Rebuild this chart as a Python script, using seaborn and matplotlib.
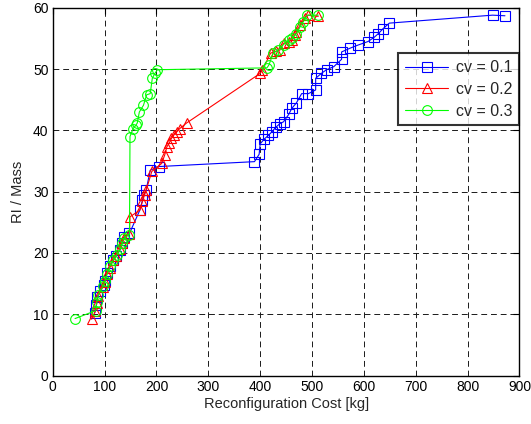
import matplotlib
matplotlib.use("Agg")
import matplotlib.pyplot as plt
import seaborn as sns
import pandas as pd

# ---- data ----
cv1_cost = [81, 84, 86, 92, 98, 101, 104, 110, 117, 122, 130, 133, 137, 148, 168, 173, 176, 180, 188, 204,
            389, 398, 400, 408, 416, 423, 430, 438, 445, 455, 461, 470, 480, 493, 507, 507, 518, 528, 542,
            557, 557, 573, 588, 608, 620, 628, 637, 649, 848, 872]
cv1_ri = [10.2, 11.5, 12.9, 13.8, 14.8, 15.5, 16.7, 17.8, 18.9, 19.5, 20.5, 21.6, 22.6, 23.2, 27.0, 28.6, 29.5, 30.2, 33.5, 34.1,
          34.9, 36.1, 37.8, 38.6, 39.2, 39.8, 40.5, 41.1, 41.4, 42.6, 43.6, 44.5, 46.0, 46.0, 46.6, 48.5, 49.3, 49.9, 50.4,
          51.6, 52.8, 53.4, 53.9, 54.5, 55.2, 55.8, 56.6, 57.5, 58.8, 58.7]

cv2_cost = [75, 82, 85, 87, 97, 100, 104, 110, 117, 122, 130, 133, 137, 148, 149, 168, 173, 177, 180, 191,
            210, 216, 220, 225, 229, 233, 239, 245, 258, 400, 404, 420, 430, 438, 445, 455, 461, 467, 470,
            477, 486, 493, 512]
cv2_ri = [9.2, 10.5, 11.8, 13.0, 14.5, 15.3, 16.5, 17.6, 18.8, 19.5, 20.6, 21.6, 22.5, 23.1, 25.9, 27.0, 28.4, 29.5, 30.2, 33.3,
          34.6, 36.0, 37.3, 38.0, 38.7, 39.2, 39.8, 40.3, 41.2, 49.3, 49.8, 52.6, 52.9, 53.1, 54.2, 54.5, 54.7, 55.6, 56.1,
          57.2, 58.3, 58.8, 58.6]

cv3_cost = [43, 83, 85, 88, 97, 101, 105, 110, 117, 123, 130, 134, 137, 148, 149, 155, 160, 163, 167, 175,
            181, 188, 192, 197, 202, 413, 417, 425, 435, 445, 455, 461, 470, 477, 483, 490, 512]
cv3_ri = [9.3, 10.6, 12.0, 13.2, 14.6, 15.5, 16.6, 17.8, 18.9, 19.6, 20.6, 21.6, 22.4, 23.0, 39.0, 40.3, 40.8, 41.2, 43.0, 44.1,
          45.8, 46.0, 48.5, 49.3, 49.9, 50.2, 50.7, 52.6, 53.1, 54.0, 54.7, 55.0, 55.8, 56.9, 57.7, 58.8, 58.8]

labels = ["cv = 0.1", "cv = 0.2", "cv = 0.3"]
x_ticks = [0, 100, 200, 300, 400, 500, 600, 700, 800, 900]
y_ticks = [0, 10, 20, 30, 40, 50, 60]

# ---- style ----
sns.set_theme(style="white")
plt.rcParams["font.family"] = ["Liberation Sans", "DejaVu Sans"]

fig = plt.figure(figsize=(5.31, 4.24), dpi=100)
ax = fig.add_axes([0.0993, 0.1142, 0.8790, 0.8674])

series = [(cv1_cost, cv1_ri, labels[0], "#0000ff", "s", 6.5),
          (cv2_cost, cv2_ri, labels[1], "#ff0000", "^", 7.5),
          (cv3_cost, cv3_ri, labels[2], "#00ff00", "o", 7)]

for xs, ys, lab, col, mk, ms in series:
    df = pd.DataFrame({"cost": xs, "ri": ys})
    sns.lineplot(data=df, x="cost", y="ri", sort=False, estimator=None, ax=ax,
                 color=col, marker=mk, markersize=ms, markerfacecolor="none",
                 markeredgecolor=col, markeredgewidth=0.8, linewidth=0.8, label=lab)

ax.set_xlim(0, 900)
ax.set_ylim(0, 60)
ax.set_xticks(x_ticks)
ax.set_yticks(y_ticks)
ax.grid(True, color="0.1", linestyle=(0, (6, 4)), linewidth=0.7)
ax.set_axisbelow(True)
for s in ax.spines.values():
    s.set_visible(True)
    s.set_color("black")
    s.set_linewidth(1.0)
ax.tick_params(direction="in", top=True, right=True, length=4, width=0.8,
               labelsize=10, colors="black", pad=3)
ax.set_xlabel("Reconfiguration Cost [kg]", fontsize=10.5, labelpad=2)
ax.set_ylabel("RI / Mass", fontsize=10.5, labelpad=6)

leg = ax.legend(loc="upper right", bbox_to_anchor=(1.0, 0.876), borderaxespad=0.0,
                fontsize=11.5, frameon=True, fancybox=False, handlelength=2.7,
                labelspacing=0.42, borderpad=0.42, handletextpad=0.5)
leg.get_frame().set_edgecolor("black")
leg.get_frame().set_linewidth(1.5)

fig.savefig("out.png", dpi=100)
